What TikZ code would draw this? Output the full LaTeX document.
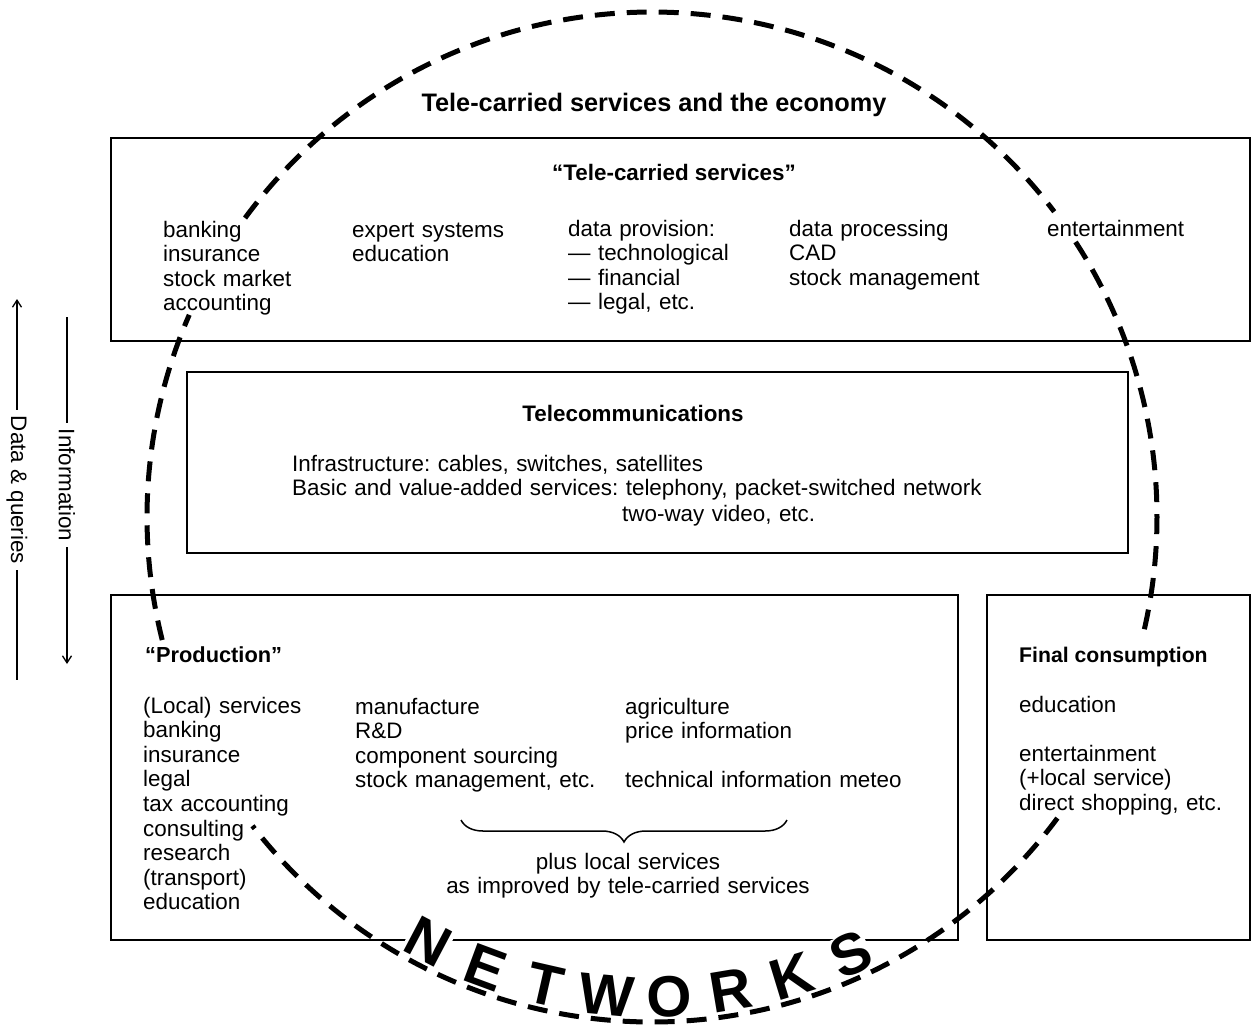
\documentclass[tikz,border=0pt]{standalone}
\usepackage{fontspec}
\setmainfont{Liberation Sans}
\frenchspacing
\usetikzlibrary{arrows.meta,decorations.pathreplacing,calc}
\begin{document}
\begin{tikzpicture}[x=1pt,y=-1pt,
  panel/.style={draw, line width=2pt},
  ring/.style={line width=5pt, dash pattern=on 20pt off 12pt},
  body/.style={anchor=base west, inner sep=0pt, align=left, text width=#1,
    font=\fontsize{22.4}{24.6}\selectfont},
  body/.default=320pt,
  head/.style={inner sep=0pt, font=\fontsize{#1}{24.6}\selectfont\bfseries},
  side/.style={rotate=-90, inner sep=6pt, font=\fontsize{22.4}{24.6}\selectfont},
  flow/.style={line width=1.3pt},
  letter/.style={font=\fontsize{58}{58}\selectfont\bfseries, inner sep=0pt, fill=white},
]
\useasboundingbox (0,0) rectangle (1252,1028);

% the four panels
\draw[panel] (111,138) rectangle (1250,341);
\draw[panel] (187,372) rectangle (1128,553);
\draw[panel] (111,595) rectangle (958,940);
\draw[panel] (987,595) rectangle (1250,940);

% the dashed ring of networks, broken where it runs through text
\coordinate (C) at (652,517);
\foreach \a/\b in {327.0/374.1, 36.6/142.3, 165.9/203.6, 216.3/322.8}
  \draw[ring] (C) ++(\a:505) arc[start angle=\a, end angle=\b, radius=505];

% NETWORKS set along the lower arc
\foreach \ch [count=\i from 0] in {N,E,T,W,O,R,K,S} {
  \pgfmathsetmacro\ang{117.8-7.46*\i}
  \pgfmathsetmacro\rot{90-\ang}
  \node[letter, rotate=\rot] (net\i) at ($(C)+(\ang:480)$) {\ch};
}

% title
\node[head=25.3, anchor=base] (title) at (654,111) {Tele-carried services and the economy};

% tele-carried services
\node[head=22.4, anchor=base] (tcs) at (674,180) {“Tele-carried services”};
\node[body] (tc1) at (163,237) {banking\\insurance\\stock market\\accounting};
\node[body] (tc2) at (352,237) {expert systems\\education};
\node[body] (tc3) at (568,236) {data provision:\\— technological\\— financial\\— legal, etc.};
\node[body] (tc4) at (789,236) {data processing\\CAD\\stock management};
\node[body=180pt] (tc5) at (1047,236) {entertainment};

% telecommunications
\node[head=22.4, anchor=base] (tel) at (633,421) {Telecommunications};
\node[body=760pt] (tel1) at (292,471) {Infrastructure: cables, switches, satellites\\Basic and value-added services: telephony, packet-switched network};
\node[body] (tel2) at (622,521) {two-way video, etc.};

% production
\node[head=21.8, anchor=base west] (prod) at (145,662) {“Production”};
\node[body] (p1) at (143,713) {(Local) services\\banking\\insurance\\legal\\tax accounting\\consulting\\research\\(transport)\\education};
\node[body] (p2) at (355,714) {manufacture\\R\&D\\component sourcing\\stock management, etc.};
\node[body] (p3) at (625,714) {agriculture\\price information\\[24.6pt]technical information meteo};
\coordinate (brR) at (787,820);
\coordinate (brL) at (461,820);
\draw[line width=1.5pt, decorate, decoration={brace, amplitude=22pt}] (brR) -- (brL);
\node[body=420pt, anchor=base, align=center] (plus) at (628,869) {plus local services\\as improved by tele-carried services};

% final consumption
\node[head=21.2, anchor=base west] (fc) at (1019,662) {Final consumption};
\node[body=220pt] (fc1) at (1019,712) {education\\[24.6pt]entertainment\\(+local service)\\direct shopping, etc.};

% flows at the left margin
\node[side] (dq) at (17,490) {Data \& queries};
\coordinate (dqTop) at (17,299);
\coordinate (dqBot) at (17,680);
\draw[flow, -{Straight Barb[length=7pt,width=9pt]}] (dq.west) -- (dqTop);
\draw[flow] (dq.east) -- (dqBot);

\node[side] (inf) at (67,485) {Information};
\coordinate (infTop) at (67,317);
\coordinate (infBot) at (67,664);
\draw[flow] (inf.west) -- (infTop);
\draw[flow, -{Straight Barb[length=7pt,width=9pt]}] (inf.east) -- (infBot);
\end{tikzpicture}
\end{document}
